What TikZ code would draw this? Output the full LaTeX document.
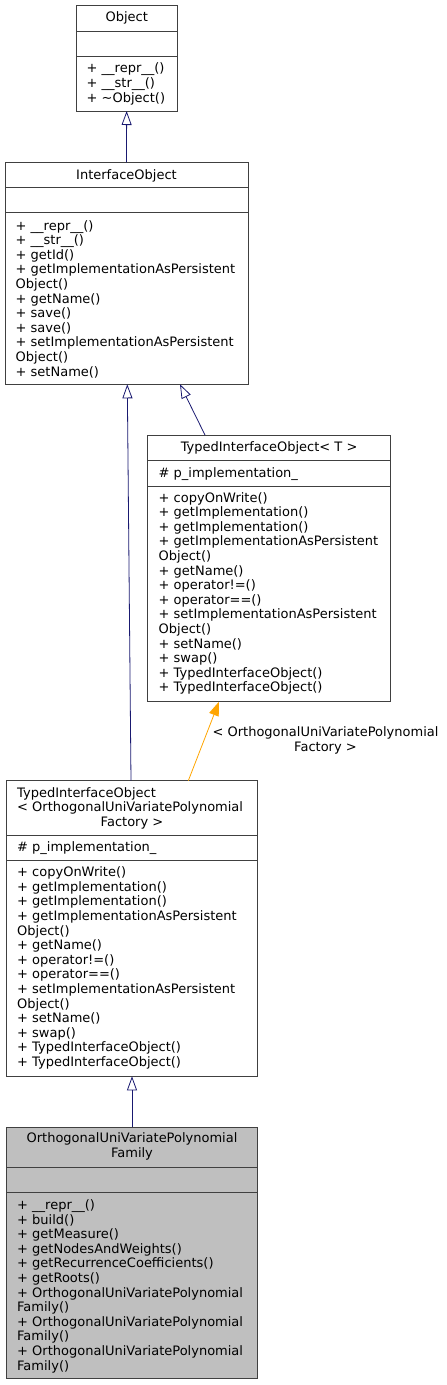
\documentclass[tikz,border=0pt]{standalone}
\usepackage{fontspec}
\setmainfont{DejaVu Sans}
\usetikzlibrary{arrows.meta,calc}
\definecolor{edgeblue}{HTML}{191970}
\definecolor{edgeorange}{HTML}{FFA500}
\definecolor{boxline}{HTML}{404040}
\definecolor{boxfill}{HTML}{BFBFBF}
\begin{document}
\begin{tikzpicture}[x=1pt,y=-1pt,
  box/.style={draw=boxline, line width=1pt, fill=white, anchor=north west, inner sep=0pt, outer sep=0pt},
  txt/.style={font=\fontsize{13}{14.6}\selectfont, inner sep=0pt, align=left, anchor=base west},
  ttl/.style={font=\fontsize{13}{14.6}\selectfont, inner sep=0pt, align=center, anchor=base},
  sep/.style={draw=boxline, line width=1pt},
  inh/.style={draw=edgeblue, line width=0.8pt, -{Triangle[open, length=14pt, width=10pt, line width=0.8pt]}},
  tmpl/.style={draw=edgeorange, line width=0.8pt, -{Triangle[length=14pt, width=10pt]}}
]
\useasboundingbox (0,0) rectangle (447,1385);

% Object (multi-line text nodes are placed by the baseline of their last line)
\node[box, minimum width=101.3pt, minimum height=105.3pt] (obj) at (76,5.7) {};
\draw[sep] (76,31.7) -- (177.3,31.7);
\draw[sep] (76,56.7) -- (177.3,56.7);
\node[ttl] (objt) at (126.7,21.5) {Object};
\node[txt] (objm) at (86.5,102.1) {+ \_\_repr\_\_()\\+ \_\_str\_\_()\\+ \textasciitilde Object()};

% InterfaceObject
\node[box, minimum width=243pt, minimum height=222pt] (io) at (5,162.3) {};
\draw[sep] (5,187.3) -- (248,187.3);
\draw[sep] (5,212.3) -- (248,212.3);
\node[ttl] (iot) at (126.5,179) {InterfaceObject};
\node[txt] (iom) at (15.5,376) {+ \_\_repr\_\_()\\+ \_\_str\_\_()\\+ getId()\\+ getImplementationAsPersistent\\Object()\\+ getName()\\+ save()\\+ save()\\+ setImplementationAsPersistent\\Object()\\+ setName()};

% TypedInterfaceObject< T >
\node[box, minimum width=242.8pt, minimum height=266.7pt] (tiot) at (147.7,435) {};
\draw[sep] (147.7,460.7) -- (390.5,460.7);
\draw[sep] (147.7,486) -- (390.5,486);
\node[ttl] (tiott) at (269.1,451.5) {TypedInterfaceObject< T >};
\node[txt] (tiota) at (158.5,477) {\# p\_implementation\_};
\node[txt] (tiotm) at (158.5,691.8) {+ copyOnWrite()\\+ getImplementation()\\+ getImplementation()\\+ getImplementationAsPersistent\\Object()\\+ getName()\\+ operator!=()\\+ operator==()\\+ setImplementationAsPersistent\\Object()\\+ setName()\\+ swap()\\+ TypedInterfaceObject()\\+ TypedInterfaceObject()};

% TypedInterfaceObject< OrthogonalUniVariatePolynomialFactory >
\node[box, minimum width=250.6pt, minimum height=295.6pt] (tiof) at (6.7,780.7) {};
\draw[sep] (6.7,835.7) -- (257.3,835.7);
\draw[sep] (6.7,860.7) -- (257.3,860.7);
\node[txt] (tioft1) at (17,797) {TypedInterfaceObject};
\node[txt] (tioft2) at (17,811.5) {< OrthogonalUniVariatePolynomial};
\node[ttl] (tioft3) at (132,826) {Factory >};
\node[txt] (tiofa) at (17,851) {\# p\_implementation\_};
\node[txt] (tiofm) at (17,1066.5) {+ copyOnWrite()\\+ getImplementation()\\+ getImplementation()\\+ getImplementationAsPersistent\\Object()\\+ getName()\\+ operator!=()\\+ operator==()\\+ setImplementationAsPersistent\\Object()\\+ setName()\\+ swap()\\+ TypedInterfaceObject()\\+ TypedInterfaceObject()};

% OrthogonalUniVariatePolynomialFamily
\node[box, fill=boxfill, minimum width=250.6pt, minimum height=251pt] (fam) at (6.7,1127.3) {};
\draw[sep] (6.7,1167.7) -- (257.3,1167.7);
\draw[sep] (6.7,1192.7) -- (257.3,1192.7);
\node[ttl] (famt) at (132,1157.5) {OrthogonalUniVariatePolynomial\\Family};
\node[txt] (famm) at (17,1370.1) {+ \_\_repr\_\_()\\+ build()\\+ getMeasure()\\+ getNodesAndWeights()\\+ getRecurrenceCoefficients()\\+ getRoots()\\+ OrthogonalUniVariatePolynomial\\Family()\\+ OrthogonalUniVariatePolynomial\\Family()\\+ OrthogonalUniVariatePolynomial\\Family()};

% connectors
\coordinate (ioA) at ($(io.south west)+(122.3,0)$);
\coordinate (ioB) at ($(io.south west)+(175,0)$);
\coordinate (tiotA) at ($(tiot.north west)+(57.3,0)$);
\coordinate (tiotB) at ($(tiot.south west)+(71.3,0)$);
\coordinate (tiofA) at ($(tiof.north west)+(124.3,0)$);
\coordinate (tiofB) at ($(tiof.north west)+(181.6,0)$);
\draw[inh] (io.north) -- (obj.south);
\draw[inh] (tiofA) -- (ioA);
\draw[inh] (tiotA) -- (ioB);
\draw[tmpl] (tiofB) -- (tiotB);
\draw[inh] (fam.north) -- (tiof.south);
\node[ttl] (lbl) at (325.5,751.1) {< OrthogonalUniVariatePolynomial\\Factory >};
\end{tikzpicture}
\end{document}
